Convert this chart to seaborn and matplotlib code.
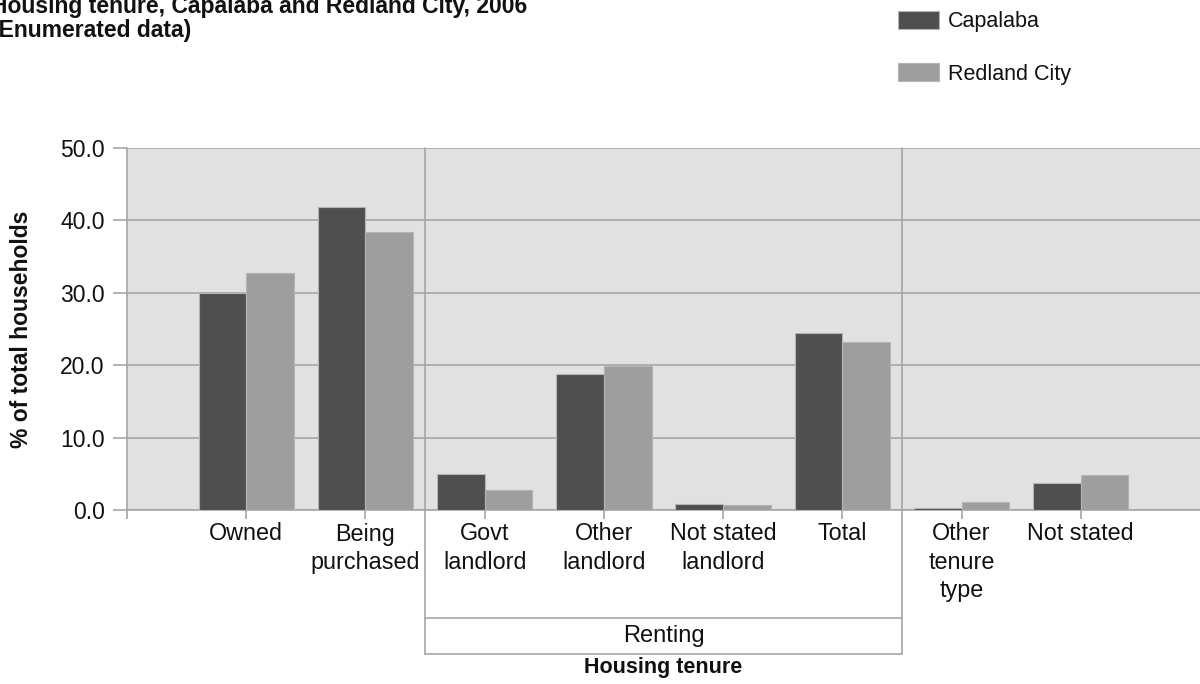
import pandas as pd
import matplotlib
matplotlib.use("Agg")
import matplotlib.pyplot as plt
import seaborn as sns

# Data
categories = ["Owned", "Being\npurchased", "Govt\nlandlord", "Other\nlandlord",
              "Not stated\nlandlord", "Total", "Other\ntenure\ntype", "Not stated"]
capalaba = [30.0, 41.9, 5.0, 18.8, 0.8, 24.4, 0.3, 3.7]
redland = [32.7, 38.4, 2.7, 19.9, 0.7, 23.2, 1.1, 4.8]
areas = ["Capalaba", "Redland City"]
yticks = [0, 10, 20, 30, 40, 50]

df = pd.DataFrame({
    "tenure": categories * 2,
    "pct": capalaba + redland,
    "area": [areas[0]] * len(categories) + [areas[1]] * len(categories),
})

sns.set_theme(style="white")
plt.rcParams["font.family"] = ["Liberation Sans", "DejaVu Sans"]

grid_col = "#a6a6a6"
dark = "#4f4f4f"
light = "#9e9e9e"
txt = "#111111"

fig = plt.figure(figsize=(12, 6.84), dpi=100)
ax = fig.add_axes([127 / 1200, 1 - 510 / 684, 1073 / 1200, 362 / 684])
ax.set_facecolor("#e1e1e1")

sns.barplot(data=df, x="tenure", y="pct", hue="area", order=categories,
            hue_order=areas, palette=[dark, light], width=0.8,
            edgecolor="#b4b4b4", linewidth=0.8, ax=ax, zorder=3)

ax.set_xlim(-1, 8)
ax.set_ylim(0, 50)
ax.set_yticks(yticks)
ax.set_yticklabels([f"{v:.1f}" for v in yticks])
ax.set_xticks(range(len(categories)))
ax.set_xticklabels(categories, linespacing=1.3)
ax.set_xticks([-1], minor=True)

ax.yaxis.grid(True, color=grid_col, linewidth=1.2, zorder=0)
ax.set_axisbelow(True)
for side in ["top", "right"]:
    ax.spines[side].set_visible(False)
for side in ["left", "bottom"]:
    ax.spines[side].set_color(grid_col)
    ax.spines[side].set_linewidth(1.2)

ax.tick_params(axis="y", length=10, width=1.2, color=grid_col, pad=6,
               labelsize=16.5, labelcolor=txt, left=True)
ax.tick_params(axis="x", which="both", length=6.5, width=1.2, color=grid_col,
               pad=2.5, labelsize=16.8, labelcolor=txt, bottom=True)

# y label
ax.set_ylabel("% of total households", fontsize=16.5, fontweight="bold",
              va="center", color=txt)
ax.yaxis.set_label_coords((22 - 127) / 1073, 0.5)

# x label
ax.set_xlabel("Housing tenure", fontsize=15.5, fontweight="bold", va="center",
              color=txt)
ax.xaxis.set_label_coords(0.5, (510 - 668) / 362)

# group separators and "Renting" bracket
trans = ax.get_xaxis_transform()
y_top_box = (510 - 618) / 362
y_bot_box = (510 - 654) / 362
for xs in [1.5, 5.5]:
    ax.plot([xs, xs], [1, y_bot_box], color=grid_col, lw=1.2,
            transform=trans, clip_on=False, zorder=1)
for yb in [y_top_box, y_bot_box]:
    ax.plot([1.5, 5.5], [yb, yb], color=grid_col, lw=1.2,
            transform=trans, clip_on=False)
ax.text(3.5, (y_top_box + y_bot_box) / 2, "Renting", transform=trans,
        ha="center", va="center", fontsize=17, color=txt)

# legend
handles, labels = ax.get_legend_handles_labels()
ax.get_legend().remove()
fig.legend(handles, labels, loc="upper left",
           bbox_to_anchor=(898 / 1200, 1 - 11 / 684), frameon=False,
           fontsize=15.5, handlelength=1.9, handleheight=0.88,
           handletextpad=0.4, labelspacing=1.45, borderpad=0,
           borderaxespad=0, labelcolor=txt)

# title (cut off at the top-left in the reference)
fig.text(-9 / 1200, 1 - 12.5 / 684, "Housing tenure, Capalaba and Redland City, 2006",
         fontsize=16.5, fontweight="bold", va="baseline", ha="left", color=txt)
fig.text(-9 / 1200, 1 - 37.5 / 684, "(Enumerated data)",
         fontsize=16.5, fontweight="bold", va="baseline", ha="left", color=txt)

fig.savefig("out.png", dpi=100)
